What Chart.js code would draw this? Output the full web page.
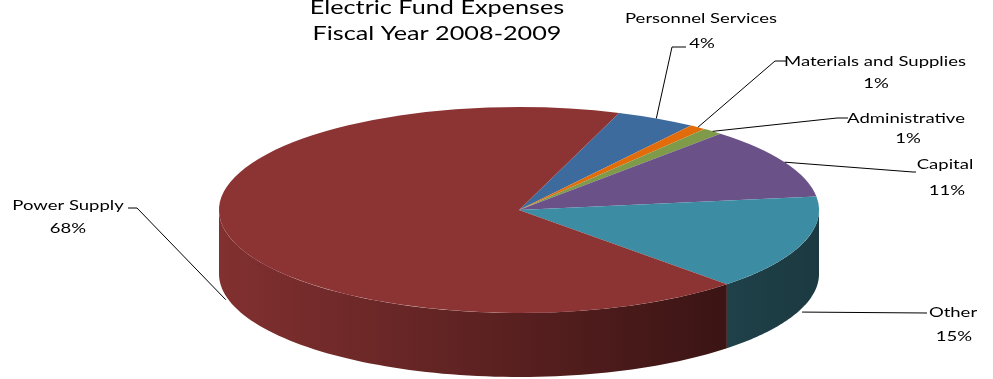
<!DOCTYPE html>
<html><head><meta charset="utf-8">
<script src="https://cdn.jsdelivr.net/npm/chart.js@4"></script>
<style>html,body{margin:0;padding:0;background:#fff;overflow:hidden}#wrap{width:993px;height:379px;position:relative}</style>
</head><body><div id="wrap"><canvas id="c"></canvas></div>
<script>
// ---- data ----
const categories = ['Personnel Services','Materials and Supplies','Administrative','Capital','Other','Power Supply'];
const shares = [4.3, 0.9, 1.1, 11.2, 14.9, 67.6];
const titleLines = ['Electric Fund Expenses','Fiscal Year 2008-2009'];

// ---- styles ----
const topColors = ['#3E6B9E','#E36C0A','#7F9A48','#6A5289','#3C8DA3','#8C3434'];
const sideLeft  = ['#2f5277','#a84f08','#5f7336','#4f3d67','#1f4149','#823030'];
const sideRight = ['#2f5277','#a84f08','#5f7336','#4f3d67','#1b3941','#3b1414'];
const GEO = {rx: 300, depth: 64, anchorDrop: 4};
const FONT = 'Lato, "Open Sans", sans-serif';
const labelLayout = [
  {l1:[701,23], l2:[702,48], pts:[[672,47],[686,47]]},
  {l1:[875,66], l2:[876,88], pts:[[775,61],[787,61]]},
  {l1:[906,123], l2:[908,143], pts:[[837,118],[848,118]]},
  {l1:[945,169], l2:[947,195], pts:[[913,172],[916,172]]},
  {l1:[953,317], l2:[954,341], pts:[[927,313]]},
  {l1:[68,210], l2:[68,233], pts:[[137,208],[128,208]]}
];

function stretchText(ctx, str, x, y, font, sx) {
  ctx.save();
  ctx.font = font;
  ctx.textAlign = 'center';
  ctx.textBaseline = 'alphabetic';
  ctx.translate(x, y);
  ctx.scale(sx, 1);
  ctx.fillText(str, 0, 0);
  ctx.restore();
}

const pie3d = {
  id: 'pie3d',
  beforeDatasetsDraw(chart) {
    const ctx = chart.ctx;
    const arcs = chart.getDatasetMeta(0).data;
    const p0 = arcs[0].getProps(['x','y','outerRadius'], true);
    const cx = p0.x, cy = p0.y, ry = p0.outerRadius, rx = GEO.rx, d = GEO.depth;
    arcs.forEach((arc, i) => {
      const {startAngle, endAngle} = arc.getProps(['startAngle','endAngle'], true);
      for (let k = -1; k <= 2; k++) {
        const lo = Math.max(startAngle, 2*Math.PI*k), hi = Math.min(endAngle, 2*Math.PI*k + Math.PI);
        if (hi <= lo) continue;
        const n = 80;
        ctx.beginPath();
        let xmin = Infinity, xmax = -Infinity;
        for (let j = 0; j <= n; j++) {
          const t = lo + (hi - lo) * j / n;
          const x = cx + rx * Math.cos(t), y = cy + ry * Math.sin(t);
          xmin = Math.min(xmin, x); xmax = Math.max(xmax, x);
          j === 0 ? ctx.moveTo(x, y) : ctx.lineTo(x, y);
        }
        for (let j = n; j >= 0; j--) {
          const t = lo + (hi - lo) * j / n;
          ctx.lineTo(cx + rx * Math.cos(t), cy + ry * Math.sin(t) + d);
        }
        ctx.closePath();
        const g = ctx.createLinearGradient(xmin, 0, xmax, 0);
        g.addColorStop(0, sideLeft[i]);
        g.addColorStop(1, sideRight[i]);
        ctx.fillStyle = g;
        ctx.fill();
      }
    });
    ctx.save();
    ctx.translate(cx, cy);
    ctx.scale(rx / ry, 1);
    ctx.translate(-cx, -cy);
  },
  afterDatasetsDraw(chart) {
    const ctx = chart.ctx;
    ctx.restore();
    const arcs = chart.getDatasetMeta(0).data;
    const p0 = arcs[0].getProps(['x','y','outerRadius'], true);
    const cx = p0.x, cy = p0.y, ry = p0.outerRadius, rx = GEO.rx, d = GEO.depth;
    const total = shares.reduce((a, b) => a + b, 0);
    ctx.save();
    ctx.font = '14px ' + FONT;
    const lsx = 152 / ctx.measureText('Personnel Services').width;
    ctx.font = '20px ' + FONT;
    const tsx = 249 / ctx.measureText('Fiscal Year 2008-2009').width;
    ctx.restore();
    // labels + leader lines
    arcs.forEach((arc, i) => {
      const {startAngle, endAngle} = arc.getProps(['startAngle','endAngle'], true);
      const mid = (startAngle + endAngle) / 2;
      const ax = cx + rx * Math.cos(mid);
      let ay = cy + ry * Math.sin(mid);
      if (Math.sin(mid) > 0) ay += d + GEO.anchorDrop;
      const L = labelLayout[i];
      ctx.save();
      ctx.strokeStyle = '#000';
      ctx.lineWidth = 1;
      ctx.beginPath();
      ctx.moveTo(ax, ay);
      L.pts.forEach(p => ctx.lineTo(p[0], p[1]));
      ctx.stroke();
      ctx.fillStyle = '#000';
      stretchText(ctx, categories[i], L.l1[0], L.l1[1], '14px ' + FONT, lsx);
      stretchText(ctx, Math.round(shares[i] / total * 100) + '%', L.l2[0], L.l2[1], '14px ' + FONT, lsx);
      ctx.restore();
    });
    // title
    ctx.save();
    ctx.fillStyle = '#000';
    stretchText(ctx, titleLines[0], 437, 14, '20px ' + FONT, tsx);
    stretchText(ctx, titleLines[1], 437, 39.5, '20px ' + FONT, tsx);
    ctx.restore();
  }
};

new Chart(document.getElementById('c'), {
  type: 'pie',
  data: {
    labels: categories,
    datasets: [{
      data: shares,
      backgroundColor: topColors,
      borderWidth: 0,
      hoverOffset: 0,
      clip: false
    }]
  },
  options: {
    responsive: true,
    maintainAspectRatio: false,
    animation: false,
    events: [],
    rotation: 19.5,
    layout: {padding: {left: 416, right: 371, top: 107, bottom: 66}},
    plugins: {legend: {display: false}, tooltip: {enabled: false}, title: {display: false}}
  },
  plugins: [pie3d]
});
</script>
</body></html>
